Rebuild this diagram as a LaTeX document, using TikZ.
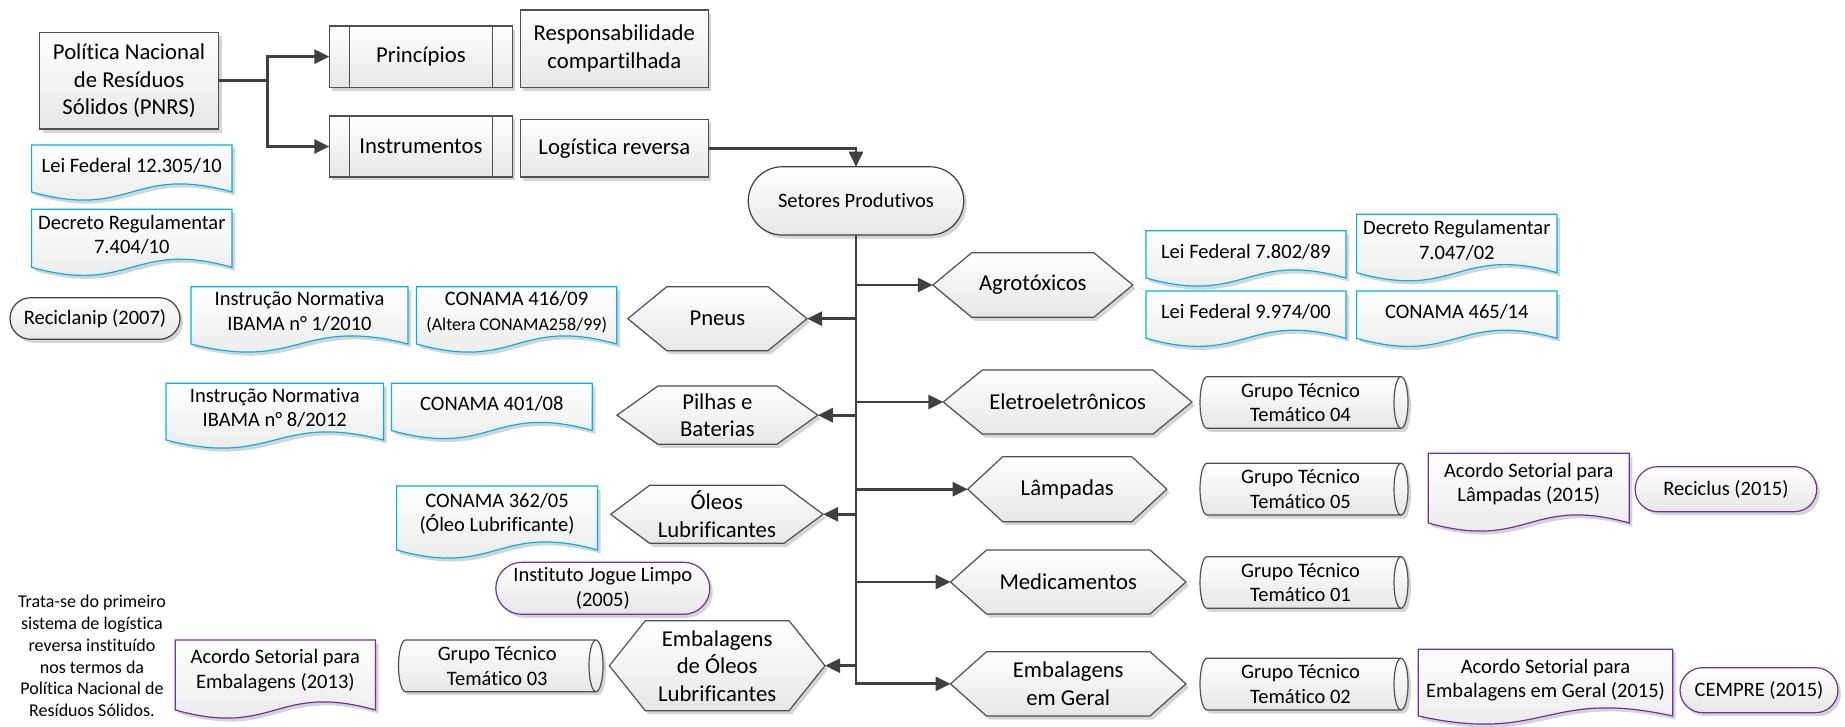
\documentclass[tikz,border=0pt]{standalone}
\usepackage{fontspec}
\setmainfont{Carlito}[RawFeature={-liga;-clig;-calt;-dlig}]
\usetikzlibrary{arrows.meta,shadows,shapes.misc}

\definecolor{edgec}{HTML}{505050}
\definecolor{linec}{HTML}{404040}
\definecolor{cyanc}{HTML}{00B0F0}
\definecolor{purplec}{HTML}{7030A0}
\definecolor{fillbot}{HTML}{E6E6E6}
\definecolor{shadowc}{HTML}{D4D4D4}

\newcommand\fbig{\fontsize{22.7}{27.5}\selectfont}
\newcommand\fmid{\fontsize{20.5}{24.5}\selectfont}
\newcommand\fsml{\fontsize{18}{21.7}\selectfont}

\tikzset{
  shd/.style={drop shadow={shadow xshift=3pt, shadow yshift=-3.5pt, fill=shadowc, opacity=1}},
  filled/.style={top color=white, bottom color=fillbot},
  edge/.style={draw=edgec, line width=1.2pt},
  boxc/.style={rectangle, edge, filled, shd, inner sep=0pt, outer sep=0pt, align=center, font=\fbig},
  pill/.style={rounded rectangle, draw=#1, line width=1.2pt, filled, shd, inner sep=0pt, outer sep=0pt, align=center, font=\fmid},
  shapec/.style={edge, filled, shd},
  docc/.style={draw=#1, line width=1.2pt, filled, shd},
  lbl/.style={inner sep=0pt, outer sep=0pt, align=center},
  conn/.style={draw=linec, line width=2.8pt, -{Triangle[length=15pt, width=14pt]}},
}

% hexagon: name, left, top, right, bottom, indent, text
\newcommand\hexnode[7]{%
  \pgfmathsetmacro\hxw{#4-#2}\pgfmathsetmacro\hxh{#5-#3}%
  \path[shapec] (#2,{(#3+#5)/2}) -- (#2+#6,#3) -- (#4-#6,#3) -- (#4,{(#3+#5)/2})
     -- (#4-#6,#5) -- (#2+#6,#5) -- cycle;
  \node[lbl, font=\fbig, minimum width=\hxw pt, minimum height=\hxh pt] (#1)
     at ({(#2+#4)/2},{(#3+#5)/2}) {#7};
}
% document: name, left, top, right, bottom of the wave, colour, text centre y, text
\newcommand\docnode[8]{%
  \pgfmathsetmacro\dmx{(#2+#4)/2}%
  \path[docc=#6] (#2,#3) -- (#4,#3) -- (#4,#5)
     .. controls (\dmx,#5-28) and (\dmx,#5+28) .. (#2,#5) -- cycle;
  \node[lbl, font=\fmid] (#1) at (\dmx,#7) {#8};
}
% horizontal drum: name, left, top, right, bottom, text
\newcommand\drumnode[6]{%
  \pgfmathsetmacro\dry{(#5-#3)/2}%
  \path[shapec] (#2+7,#3) -- (#4-7,#3) arc[start angle=-90, end angle=90, x radius=7, y radius=\dry]
     -- (#2+7,#5) arc[start angle=90, end angle=270, x radius=7, y radius=\dry] -- cycle;
  \draw[edge] (#4-7,#3) arc[start angle=270, end angle=90, x radius=7, y radius=\dry];
  \node[lbl, font=\fmid] (#1) at ({(#2+#4-7)/2},{(#3+#5)/2}) {#6};
}

\begin{document}
\begin{tikzpicture}[x=1pt, y=-1pt]
\useasboundingbox (0,0) rectangle (1845,727);

% ---- policy and its instruments
\node[boxc, minimum width=179.2pt, minimum height=96.7pt] (pnrs) at (129.1,80.7)
  {Política Nacional\\de Resíduos\\Sólidos (PNRS)};
\node[boxc, minimum width=183pt, minimum height=61.3pt] (prin) at (420.9,56.7) {Princípios};
\node[boxc, minimum width=183pt, minimum height=61pt] (inst) at (420.9,146.5) {Instrumentos};
\foreach \n in {prin,inst} {
  \draw[edge] ([xshift=19.7pt]\n.north west) -- ([xshift=19.7pt]\n.south west);
  \draw[edge] ([xshift=-19.7pt]\n.north east) -- ([xshift=-19.7pt]\n.south east);
}
\node[boxc, minimum width=188pt, minimum height=77.3pt] (resp) at (614.3,48.7)
  {Responsabilidade\\compartilhada};
\node[boxc, minimum width=188pt, minimum height=57.7pt] (logr) at (614.3,148.2) {Logística reversa};

\docnode{lei12}{31.6}{145}{232}{192}{cyanc}{165.7}{Lei Federal 12.305/10}
\docnode{dec74}{31.6}{209.3}{232}{267.3}{cyanc}{234.7}{Decreto Regulamentar\\7.404/10}

% ---- productive sectors
\node[pill=linec, minimum width=215.5pt, minimum height=68.3pt] (setores) at (856,200.9) {Setores Produtivos};

\hexnode{agro}{932.8}{252.7}{1132.8}{317.3}{39}{Agrotóxicos}
\hexnode{eletro}{943.3}{370}{1192}{434}{39}{Eletroeletrônicos}
\hexnode{lamp}{967.7}{456.7}{1166.8}{521.7}{35}{Lâmpadas}
\hexnode{medic}{950.5}{550}{1186}{614}{36}{Medicamentos}
\hexnode{embg}{950.5}{651.7}{1186}{716}{36}{Embalagens\\em Geral}
\hexnode{pneus}{627.8}{286.7}{807}{350.7}{39}{Pneus}
\hexnode{pilhas}{617}{386}{817.8}{444.3}{41}{Pilhas e\\Baterias}
\hexnode{oleos}{610.7}{485.3}{823}{543.3}{39}{Óleos\\Lubrificantes}
\hexnode{embo}{609.3}{620.7}{825}{710.7}{36}{Embalagens\\de Óleos\\Lubrificantes}

% ---- agrochemicals
\docnode{lei78}{1146}{230.7}{1346}{278}{cyanc}{251.7}{Lei Federal 7.802/89}
\docnode{dec70}{1356.6}{214.3}{1557}{272.7}{cyanc}{240.3}{Decreto Regulamentar\\7.047/02}
\docnode{lei99}{1146}{291}{1346}{338.3}{cyanc}{312.3}{Lei Federal 9.974/00}
\docnode{con465}{1356.6}{291}{1557}{338.3}{cyanc}{312.3}{CONAMA 465/14}

% ---- tyres
\node[pill=linec, minimum width=170pt, minimum height=41.6pt] (reciclanip) at (95,318.5) {Reciclanip (2007)};
\docnode{in1}{191}{286.7}{408}{344}{cyanc}{311.3}{Instrução Normativa\\IBAMA n° 1/2010}
\docnode{con416}{416.4}{286.7}{616.8}{344}{cyanc}{312}{CONAMA 416/09\\{\fsml (Altera CONAMA258/99)}}

% ---- batteries
\docnode{in8}{166}{383.3}{383.5}{440}{cyanc}{408}{Instrução Normativa\\IBAMA n° 8/2012}
\docnode{con401}{391.4}{383.3}{592.3}{430.5}{cyanc}{404}{CONAMA 401/08}

% ---- lubricating oils
\docnode{con362}{396.6}{486}{597.5}{550}{cyanc}{514}{CONAMA 362/05\\(Óleo Lubrificante)}
\node[pill=purplec, minimum width=214pt, minimum height=52pt] (jogue) at (602.8,588.3) {Instituto Jogue Limpo\\(2005)};

% ---- oil packaging
\drumnode{gt03}{398.5}{640}{603}{691.7}{Grupo Técnico\\Temático 03}
\docnode{acemb}{175.2}{640}{375.5}{710}{purplec}{670.7}{Acordo Setorial para\\Embalagens (2013)}
\node[lbl, font=\fsml] (nota) at (92,656) {Trata-se do primeiro\\sistema de logística\\reversa instituído\\nos termos da\\Política Nacional de\\Resíduos Sólidos.};

% ---- technical groups and sector agreements
\drumnode{gt04}{1200}{376.7}{1408}{428.3}{Grupo Técnico\\Temático 04}
\drumnode{gt05}{1200}{463.3}{1408}{515}{Grupo Técnico\\Temático 05}
\drumnode{gt01}{1200}{556.7}{1408}{608.3}{Grupo Técnico\\Temático 01}
\drumnode{gt02}{1200}{658.3}{1408}{710}{Grupo Técnico\\Temático 02}
\docnode{aclamp}{1428.3}{453.3}{1629.3}{523}{purplec}{484}{Acordo Setorial para\\Lâmpadas (2015)}
\node[pill=purplec, minimum width=181.7pt, minimum height=45pt] (reciclus) at (1725.9,489.2) {Reciclus (2015)};
\docnode{acger}{1418.3}{649.3}{1672.7}{716}{purplec}{680}{Acordo Setorial para\\Embalagens em Geral (2015)}
\node[pill=purplec, minimum width=158pt, minimum height=45pt] (cempre) at (1759,690.2) {CEMPRE (2015)};

% ---- connectors
\coordinate (jn) at (267.7,80.7);
\draw[conn] (pnrs.east) -- (jn) |- (prin.west);
\draw[conn] (jn) |- (inst.west);
\draw[conn] (logr.east) -| (setores.north);
\draw[conn] (setores.south) |- (embg.west);
\foreach \t in {agro,eletro,lamp,medic}
  \draw[conn] (setores.south |- \t.west) -- (\t.west);
\foreach \t in {pneus,pilhas,oleos,embo}
  \draw[conn] (setores.south |- \t.east) -- (\t.east);
\end{tikzpicture}
\end{document}
